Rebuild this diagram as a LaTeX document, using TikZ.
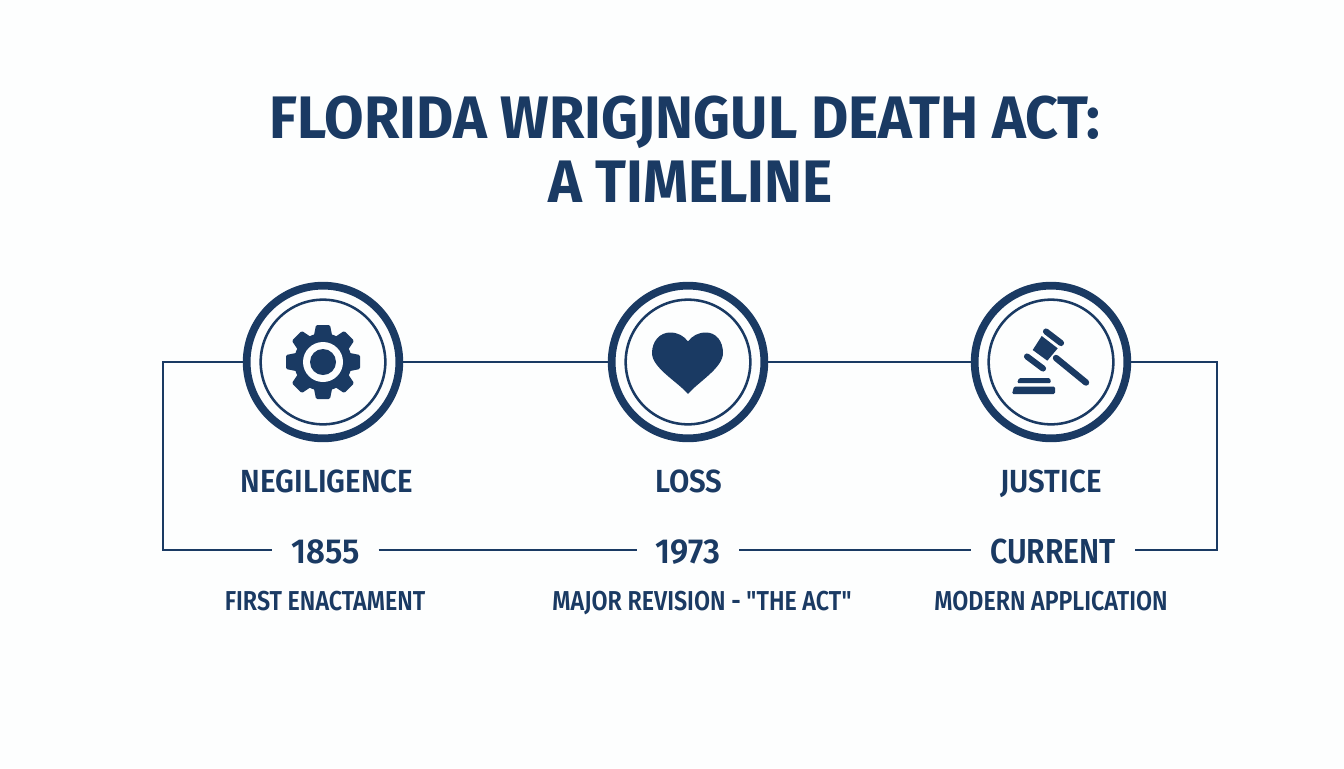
\documentclass[tikz,border=0pt]{standalone}
\usepackage{fontspec}
\setmainfont{Fira Sans}
\newfontfamily\semifont{Fira Sans SemiBold}
\definecolor{navy}{HTML}{1A3A63}
\definecolor{paper}{HTML}{FDFEFE}
\begin{document}
\begin{tikzpicture}[x=0.75pt,y=-0.75pt,
   ring/.style={draw=navy,circle,line width=5.8pt,minimum size=114.5pt,inner sep=0pt},
   thinring/.style={draw=navy,circle,line width=1.9pt,minimum size=93.5pt,inner sep=0pt},
   wire/.style={draw=navy,line width=1.6pt},
   titletext/.style={text=navy,font=\bfseries\fontsize{45}{48}\selectfont\addfontfeature{FakeStretch=.955},align=center},
   headtext/.style={text=navy,text height=16.5pt,text depth=0pt,font=\semifont\fontsize{24}{26}\selectfont\addfontfeature{FakeStretch=.92}},
   yeartext/.style={text=navy,text height=20.5pt,text depth=0pt,font=\semifont\fontsize{26}{28}\selectfont\addfontfeature{FakeStretch=.95},inner xsep=14pt,inner ysep=0pt},
   subtext/.style={text=navy,text height=15pt,text depth=0pt,font=\semifont\fontsize{20.5}{22}\selectfont\addfontfeature{FakeStretch=.85}}]
\fill[paper] (0,0) rectangle (1344,768);
\useasboundingbox (0,0) rectangle (1344,768);
\node[titletext] (title) at (685,149) {FLORIDA WRIGJNGUL DEATH ACT:\\\hspace*{8pt}A TIMELINE};
\node[ring] (gearring) at (323,362) {};
\node[ring] (heartring) at (688,362) {};
\node[ring] (gavelring) at (1051,362) {};
\node[thinring] at (gearring) {};
\node[thinring] at (heartring) {};
\node[thinring] at (gavelring) {};
\node[headtext] (negligence) at (327,481) {NEGILIGENCE};
\node[headtext] (loss) at (689,481) {LOSS};
\node[headtext] (justice) at (1051,481) {JUSTICE};
\node[yeartext] (first) at (325.5,550) {1855};
\node[yeartext] (second) at (688,550) {1973};
\node[yeartext] (third) at (1053,550) {\addfontfeature{FakeStretch=.87}CURRENT};
\node[subtext] (firstsub) at (325,600) {FIRST ENACTAMENT};
\node[subtext] (secondsub) at (702,600) {MAJOR REVISION - \symbol{34}THE ACT\symbol{34}};
\node[subtext] (thirdsub) at (1051,600) {MODERN APPLICATION};
\coordinate (topleft) at (163,362);
\coordinate (botleft) at (163,550);
\coordinate (topright) at (1217,362);
\coordinate (botright) at (1217,550);
\draw[wire] (gearring) -- (heartring);
\draw[wire] (heartring) -- (gavelring);
\draw[wire] (gearring) -- (topleft) -- (botleft) -- (first);
\draw[wire] (gavelring) -- (topright) -- (botright) -- (third);
\draw[wire] (first) -- (second);
\draw[wire] (second) -- (third);
\fill[navy] (323,362) circle (29);
\foreach \a in {0,45,...,315}
   \fill[navy,rounded corners=1pt,rotate around={\a:(323,362)}]
      (313,340) -- (316,325) -- (330,325) -- (333,340) -- cycle;
\fill[paper] (323,362) circle (20);
\fill[navy] (323,362) circle (13);
\fill[navy] (688,394) .. controls (678,382) and (652,368) .. (652,353)
   .. controls (652,341) and (660,332.5) .. (670,332.5)
   .. controls (678,332.5) and (684,336) .. (688,341.5)
   .. controls (692,336) and (698,332.5) .. (706,332.5)
   .. controls (716,332.5) and (723,341) .. (723,353)
   .. controls (723,368) and (698,382) .. (688,394) -- cycle;
\fill[navy] (1032.7,350) -- (1041.7,336) -- (1057.7,348.3) -- (1047.3,360.7) -- cycle;
\draw[navy,line width=4.6pt,line cap=round] (1046,331.5) -- (1061,343);
\draw[navy,line width=4.6pt,line cap=round] (1027,356.5) -- (1043,368.5);
\draw[navy,line width=4.8pt,line cap=round] (1056,358) -- (1086,382.5);
\fill[navy,rounded corners=1pt] (1012,394) -- (1014,386.5) -- (1055,386.5) -- (1055,394) -- cycle;
\fill[navy,rounded corners=1pt] (1017,383) -- (1019,378) -- (1050,378) -- (1051,383) -- cycle;
\end{tikzpicture}
\end{document}
